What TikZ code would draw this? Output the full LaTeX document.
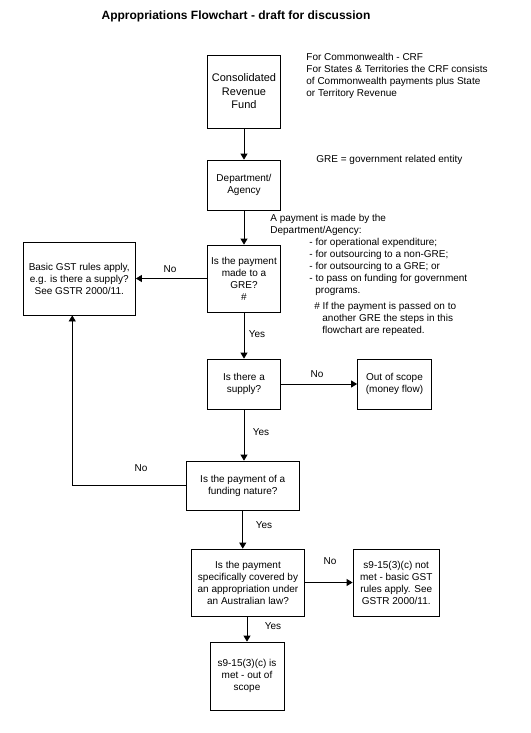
\documentclass[tikz,border=0pt]{standalone}
\usepackage{fontspec}
\setmainfont{Liberation Sans}
\usetikzlibrary{arrows.meta}
\begin{document}
\begin{tikzpicture}[x=1pt,y=-1pt,font=\fontsize{10}{12}\selectfont,line width=0.8pt,
  box/.style={draw,align=center,inner sep=1pt},
  note/.style={align=left,inner sep=0pt,anchor=north west},
  >={Triangle[length=6pt,width=7pt]}]
\useasboundingbox (0,0) rectangle (530,733);

%Title
\node[font=\bfseries\fontsize{12}{14}\selectfont] (title) at (236,16) {Appropriations Flowchart - draft for discussion};

%Main column
\node[box,minimum width=73pt,minimum height=73pt,font=\fontsize{11}{13.5}\selectfont] (crf) at (244,91.5) {Consolidated\\Revenue\\Fund};
\node[box,minimum width=73pt,minimum height=50pt] (dept) at (244,185) {Department/\\Agency};
\node[box,minimum width=73pt,minimum height=67pt] (greq) at (244,278.5) {Is the payment\\made to a\\GRE?\\\#};
\node[box,minimum width=73pt,minimum height=50pt] (supply) at (244,384) {Is there a\\supply?};
\node[box,minimum width=112.5pt,minimum height=49pt] (fund) at (242.75,485.5) {Is the payment of a\\funding nature?};
\node[box,minimum width=113pt,minimum height=67pt] (approp) at (248,582.5) {Is the payment\\specifically covered by\\an appropriation under\\an Australian law?};
\node[box,minimum width=74pt,minimum height=68pt] (met) at (247,676) {s9-15(3)(c) is\\met - out of\\scope};

%Side boxes
\node[box,minimum width=112.5pt,minimum height=73pt] (basic) at (79.25,278.5) {Basic GST rules apply,\\e.g. is there a supply?\\See GSTR 2000/11.};
\node[box,minimum width=74pt,minimum height=50pt] (out) at (394.5,384) {Out of scope\\(money flow)};
\node[box,minimum width=86.5pt,minimum height=67pt] (notmet) at (396.25,582.5) {s9-15(3)(c) not\\met - basic GST\\rules apply. See\\GSTR 2000/11.};

%Notes
\node[note] (crfnote) at (306,53) {For Commonwealth - CRF\\For States \& Territories the CRF consists\\of Commonwealth payments plus State\\or Territory Revenue};
\node[note] (grenote) at (316,155) {GRE = government related entity};
\node[note] (paynote) at (270,214) {A payment is made by the\\Department/Agency:};
\node[note] (paylist) at (309,238) {- for operational expenditure;\\- for outsourcing to a non-GRE;\\- for outsourcing to a GRE; or\\- to pass on funding for government\\\hspace*{6pt}programs.};
\node[note] (hashnote) at (314,302) {\# If the payment is passed on to\\\hspace*{8pt}another GRE the steps in this\\\hspace*{8pt}flowchart are repeated.};

%Labels
\node (noA) at (170,269) {No};
\node (yesA) at (257,334) {Yes};
\node (noB) at (317,374) {No};
\node (yesB) at (261,432) {Yes};
\node (noC) at (141,468) {No};
\node (yesC) at (264,525) {Yes};
\node (noD) at (330,561) {No};
\node (yesD) at (273,626) {Yes};

%Connectors
\draw[->] (crf) -- (dept);
\draw[->] (dept) -- (greq);
\draw[->] (greq) -- (basic);
\draw[->] (greq) -- (supply);
\draw[->] (supply) -- (out);
\draw[->] (supply.south) -- (supply.south |- fund.north);
\draw[->] (fund.west) -| ([xshift=-7pt]basic.south);
\draw[->] (fund.south) -- (fund.south |- approp.north);
\draw[->] (approp) -- (notmet);
\draw[->] (met.north |- approp.south) -- (met.north);

\end{tikzpicture}
\end{document}
